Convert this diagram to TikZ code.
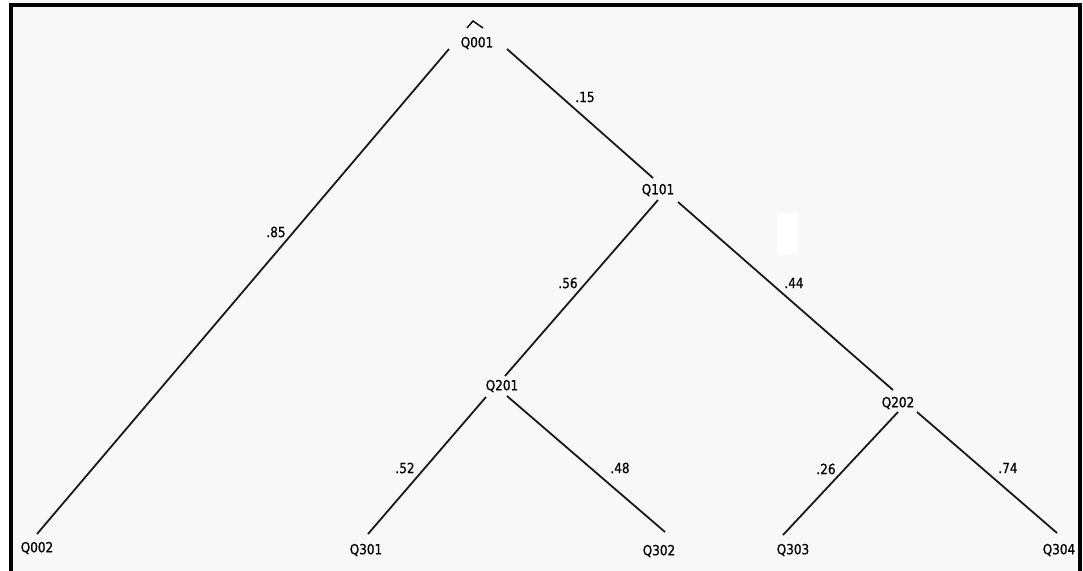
\documentclass[tikz,border=0pt]{standalone}
\usepackage{fontspec}
\setmainfont{DejaVu Sans}[FakeStretch=0.86,FakeBold=0.6]
\usetikzlibrary{calc}
\definecolor{paper}{HTML}{F8F8F8}
\tikzset{
  lbl/.style={inner sep=1bp, font=\fontsize{14bp}{16bp}\selectfont},
  wt/.style={inner sep=1bp, font=\fontsize{14bp}{16bp}\selectfont},
  edge/.style={line width=1.8bp, black!90},
  frame/.style={line width=4bp, black}
}
\begin{document}
\begin{tikzpicture}[x=1bp,y=-1bp]
\useasboundingbox (0,0) rectangle (1083,571);
\fill[paper] (0,0) rectangle (1083,571);
\fill[white] (0,0) rectangle (9,571);
\fill[white] (777,213) rectangle (798,255);
% frame
\draw[frame] (9,5) -- (1082,5);
\draw[frame] (11,3) -- (11,571);
\draw[frame] (1080,3) -- (1080,571);
% nodes
\node[lbl] (q001) at (477,43) {Q001};
\node[lbl] (q002) at (37,548) {Q002};
\node[lbl] (q101) at (658,190) {Q101};
\node[lbl] (q201) at (502,386) {Q201};
\node[lbl] (q202) at (898,403) {Q202};
\node[lbl] (q301) at (366,550) {Q301};
\node[lbl] (q302) at (659,551) {Q302};
\node[lbl] (q303) at (793,550) {Q303};
\node[lbl] (q304) at (1059,550) {Q304};
% caret
\draw[line width=1.4bp] ($(q001)+(-10,-15)$) -- ($(q001)+(-4,-22)$) -- ($(q001)+(6,-15)$);
% edges
\draw[edge] ($(q001)+(-28,6)$) -- ($(q002)+(0,-14)$);
\draw[edge] ($(q001)+(30,6)$) -- ($(q101)+(-5,-12)$);
\draw[edge] ($(q101)+(0,10)$) -- ($(q201)+(3,-10)$);
\draw[edge] ($(q101)+(20,12)$) -- ($(q202)+(-5,-13)$);
\draw[edge] ($(q201)+(-16,11)$) -- ($(q301)+(2,-16)$);
\draw[edge] ($(q201)+(5,10)$) -- ($(q302)+(6,-19)$);
\draw[edge] ($(q202)+(0,9)$) -- ($(q303)+(-10,-15)$);
\draw[edge] ($(q202)+(19,9)$) -- ($(q304)+(-2,-17)$);
% weights
\node[wt] (w1) at (585,97) {.15};
\node[wt] (w2) at (276,232) {.85};
\node[wt] (w3) at (568,283) {.56};
\node[wt] (w4) at (794,283) {.44};
\node[wt] (w5) at (405,468) {.52};
\node[wt] (w6) at (620,468) {.48};
\node[wt] (w7) at (826,469) {.26};
\node[wt] (w8) at (1008,468) {.74};
\end{tikzpicture}
\end{document}
